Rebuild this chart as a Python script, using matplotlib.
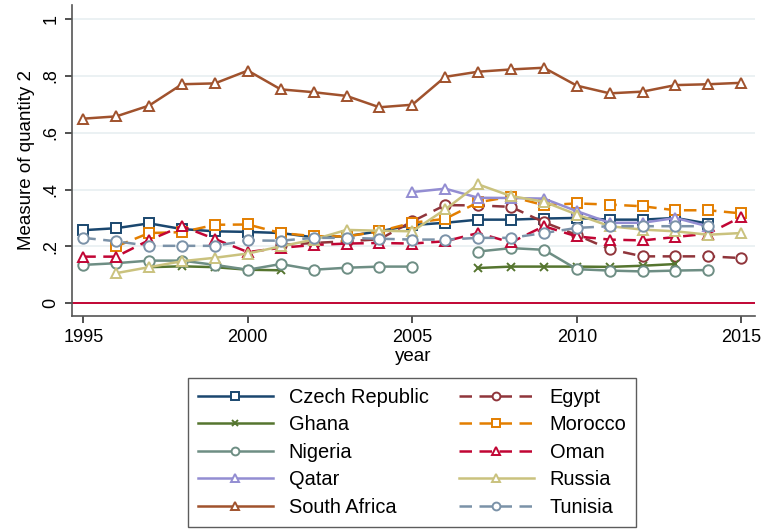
import numpy as np
import matplotlib
matplotlib.use("Agg")
import matplotlib.pyplot as plt

plt.rcParams['font.family'] = ['Liberation Sans', 'DejaVu Sans']

nan = np.nan
years = list(range(1995, 2016))

czech = [0.257, 0.264, 0.281, 0.261, 0.253, 0.251, 0.247, 0.232, 0.236, 0.253, 0.275,
         0.283, 0.294, 0.294, 0.298, 0.300, 0.294, 0.294, 0.300, 0.280, nan]
egypt = [nan, nan, nan, nan, nan, nan, 0.205, 0.212, 0.218, 0.225, 0.288,
         0.345, 0.344, 0.339, 0.285, 0.240, 0.190, 0.165, 0.165, 0.165, 0.159]
ghana = [nan, nan, 0.127, 0.130, 0.127, 0.118, 0.116, nan, nan, nan, nan,
         nan, 0.124, 0.129, 0.129, 0.129, 0.128, 0.132, 0.138, nan, nan]
morocco = [nan, 0.200, 0.247, 0.250, 0.276, 0.277, 0.247, 0.236, 0.235, 0.253, 0.283,
           0.297, 0.355, 0.375, 0.345, 0.351, 0.347, 0.341, 0.327, 0.327, 0.316]
nigeria = [0.135, 0.141, 0.150, 0.150, 0.135, 0.118, 0.138, 0.118, 0.125, 0.129, 0.129,
           nan, 0.182, 0.194, 0.188, 0.120, 0.115, 0.112, 0.115, 0.117, nan]
oman = [0.164, 0.164, 0.222, 0.271, 0.226, 0.180, 0.195, 0.205, 0.210, 0.212, 0.210,
        0.218, 0.247, 0.214, 0.271, 0.235, 0.224, 0.221, 0.233, 0.245, 0.304]
qatar = [nan, nan, nan, nan, nan, nan, nan, nan, nan, nan, 0.391,
         0.403, 0.371, 0.370, 0.368, 0.324, 0.283, 0.283, 0.300, 0.270, nan]
russia = [nan, 0.106, 0.127, 0.148, 0.160, 0.175, 0.200, 0.224, 0.258, 0.255, 0.253,
          0.330, 0.418, 0.377, 0.357, 0.312, 0.271, 0.259, 0.253, 0.241, 0.247]
south_africa = [0.649, 0.657, 0.695, 0.770, 0.773, 0.818, 0.752, 0.742, 0.729, 0.689, 0.698,
                0.796, 0.814, 0.822, 0.828, 0.765, 0.738, 0.744, 0.767, 0.770, 0.775]
tunisia = [0.230, 0.218, 0.202, 0.202, 0.202, 0.221, 0.220, 0.230, 0.230, 0.227, 0.224,
           0.224, 0.230, 0.230, 0.247, 0.265, 0.271, 0.271, 0.271, 0.271, nan]

series = [
    ("Czech Republic", czech, '#1a476f', 's', '-'),
    ("Egypt", egypt, '#90353b', 'o', '--'),
    ("Ghana", ghana, '#55752f', 'x', '-'),
    ("Morocco", morocco, '#e37e00', 's', '--'),
    ("Nigeria", nigeria, '#6e8e84', 'o', '-'),
    ("Oman", oman, '#c10534', '^', '--'),
    ("Qatar", qatar, '#938dd2', '^', '-'),
    ("Russia", russia, '#cac27e', '^', '-'),
    ("South Africa", south_africa, '#a0522d', '^', '-'),
    ("Tunisia", tunisia, '#7b92a8', 'o', '--'),
]

W, H = 769, 529
fig = plt.figure(figsize=(W / 100, H / 100), dpi=100)
left, right, top, bottom = 71.7, 755, 5, 316
ax = fig.add_axes([left / W, (H - bottom) / H, (right - left) / W, (bottom - top) / H])

yr0 = 83.3
dx = 32.9
ax.set_xlim(1995 + (left - yr0) / dx, 1995 + (right - yr0) / dx)
y0 = 303.3
dy = 284.5
ax.set_ylim((y0 - bottom) / dy, (y0 - top) / dy)

for v in [0.2, 0.4, 0.6, 0.8, 1.0]:
    ax.axhline(v, color='#e8eff1', lw=1.2, zorder=0)
ax.axhline(0, color='#c10534', lw=1.4, zorder=1)

handles = {}
for name, vals, col, mk, ls in series:
    kw = dict(color=col, lw=1.8, marker=mk, markersize=7.5 if mk != 'x' else 6,
              markerfacecolor='white' if mk != 'x' else col, markeredgecolor=col,
              markeredgewidth=1.4, label=name, zorder=3)
    if ls == '--':
        kw['dashes'] = (5, 3)
    line, = ax.plot(years, vals, **kw)
    handles[name] = line

ax.spines['top'].set_visible(False)
ax.spines['right'].set_visible(False)
for s in ['left', 'bottom']:
    ax.spines[s].set_color('#555555')
    ax.spines[s].set_linewidth(1.2)

ax.set_xticks([1995, 2000, 2005, 2010, 2015])
ax.set_yticks([0, 0.2, 0.4, 0.6, 0.8, 1.0])
ax.set_yticklabels(['0', '.2', '.4', '.6', '.8', '1'], rotation=90, va='center')
ax.tick_params(axis='both', direction='out', length=5, width=1.2, color='#333333',
               labelsize=13, labelcolor='black')
ax.tick_params(axis='x', pad=4)
ax.tick_params(axis='y', pad=4)
ax.set_xlabel('year', fontsize=13.5, labelpad=2)
ax.set_ylabel('Measure of quantity 2', fontsize=13.5, labelpad=5)

order = ["Czech Republic", "Ghana", "Nigeria", "Qatar", "South Africa",
         "Egypt", "Morocco", "Oman", "Russia", "Tunisia"]
leg = fig.legend([handles[n] for n in order], order, ncol=2,
                 loc='upper center', bbox_to_anchor=(412 / W, 1 - 378 / H),
                 bbox_transform=fig.transFigure, borderaxespad=0,
                 fontsize=14.4, handlelength=3.75, handletextpad=0.8,
                 columnspacing=1.5, labelspacing=0.42, frameon=True,
                 fancybox=False, edgecolor='#333333', borderpad=0.5,
                 markerscale=0.75)
leg.get_frame().set_linewidth(1.0)

fig.savefig('out.png', dpi=100)
